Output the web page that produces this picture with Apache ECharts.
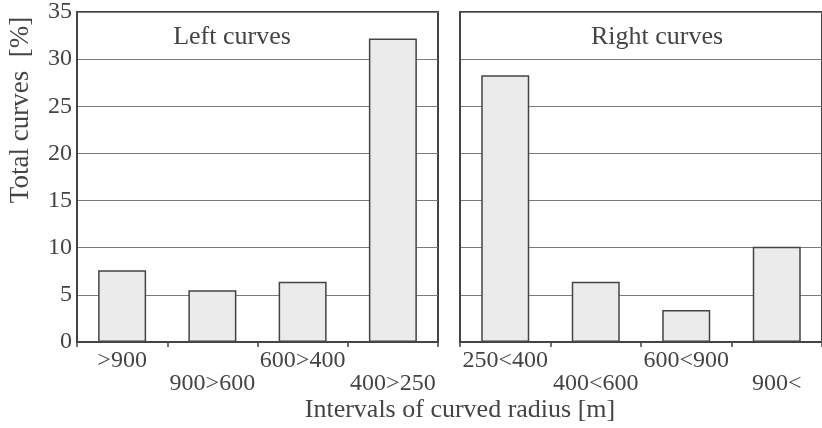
<!DOCTYPE html>
<html>
<head>
<meta charset="utf-8">
<script src="https://cdn.jsdelivr.net/npm/echarts@6/dist/echarts.min.js"></script>
<style>
html, body { margin: 0; padding: 0; background: #fff; }
#main { width: 822px; height: 428px; }
</style>
</head>
<body>
<div id="main"></div>
<script>
// categories and values
var leftCats = ['>900', '900>600', '600>400', '400>250'];
var leftVals = [7.6, 5.5, 6.4, 32.2];
var rightCats = ['250<400', '400<600', '600<900', '900<'];
var rightVals = [28.3, 6.4, 3.4, 10.1];
var yMin = 0, yMax = 35, yStep = 5;

var FONT = 'Liberation Serif';
var INK = '#444';

var dom = document.getElementById('main');
var chart = echarts.init(dom);

// labels alternate between two rows
function stagger(v, i) {
	return i % 2 ? '\n' + v : v;
}

function xAxisFor(grid, cats) {
	return {
		type: 'category',
		gridIndex: grid,
		data: cats,
		axisLine: { lineStyle: { color: INK, width: 2 } },
		axisTick: { show: true, length: 5, lineStyle: { color: INK, width: 1.5 } },
		axisLabel: {
			interval: 0, margin: 7, formatter: stagger,
			fontFamily: FONT, fontSize: 24, color: INK, lineHeight: 23
		}
	};
}

function yAxisFor(grid, labels) {
	return {
		type: 'value',
		gridIndex: grid,
		min: yMin, max: yMax, interval: yStep,
		axisLine: { show: true, lineStyle: { color: INK, width: 2 } },
		axisTick: { show: false },
		axisLabel: { show: labels, margin: 5, fontFamily: FONT, fontSize: 24, color: INK },
		splitLine: { lineStyle: { color: '#7a7a7a', width: 1 } }
	};
}

function barsFor(idx, vals) {
	return {
		type: 'bar',
		xAxisIndex: idx, yAxisIndex: idx,
		data: vals,
		barWidth: 48,
		itemStyle: { color: '#ebebeb', borderColor: INK, borderWidth: 1.5 },
		silent: true
	};
}

var option = {
	animation: false,
	backgroundColor: '#fff',
	grid: [
		{ left: 77, top: 12, width: 361, bottom: 86, show: true, borderColor: INK, borderWidth: 2 },
		{ left: 460, top: 12, right: -7, bottom: 86, show: true, borderColor: INK, borderWidth: 2 }
	],
	xAxis: [xAxisFor(0, leftCats), xAxisFor(1, rightCats)],
	yAxis: [yAxisFor(0, true), yAxisFor(1, false)],
	series: [barsFor(0, leftVals), barsFor(1, rightVals)],
	graphic: [
		{ type: 'text', x: 232, y: 37, style: { text: 'Left curves', font: '26px "' + FONT + '"', fill: INK, align: 'center', verticalAlign: 'middle' } },
		{ type: 'text', x: 657, y: 37, style: { text: 'Right curves', font: '26px "' + FONT + '"', fill: INK, align: 'center', verticalAlign: 'middle' } },
		{ type: 'text', x: 21, y: 110, rotation: Math.PI / 2, style: { text: 'Total curves  [%]', font: '27px "' + FONT + '"', fill: INK, align: 'center', verticalAlign: 'middle' } },
		{ type: 'text', x: 460, y: 410, style: { text: 'Intervals of curved radius [m]', font: '26px "' + FONT + '"', fill: INK, align: 'center', verticalAlign: 'middle' } }
	]
};

chart.setOption(option);

window.addEventListener('resize', function() {
	chart.resize();
});
</script>
</body>
</html>
